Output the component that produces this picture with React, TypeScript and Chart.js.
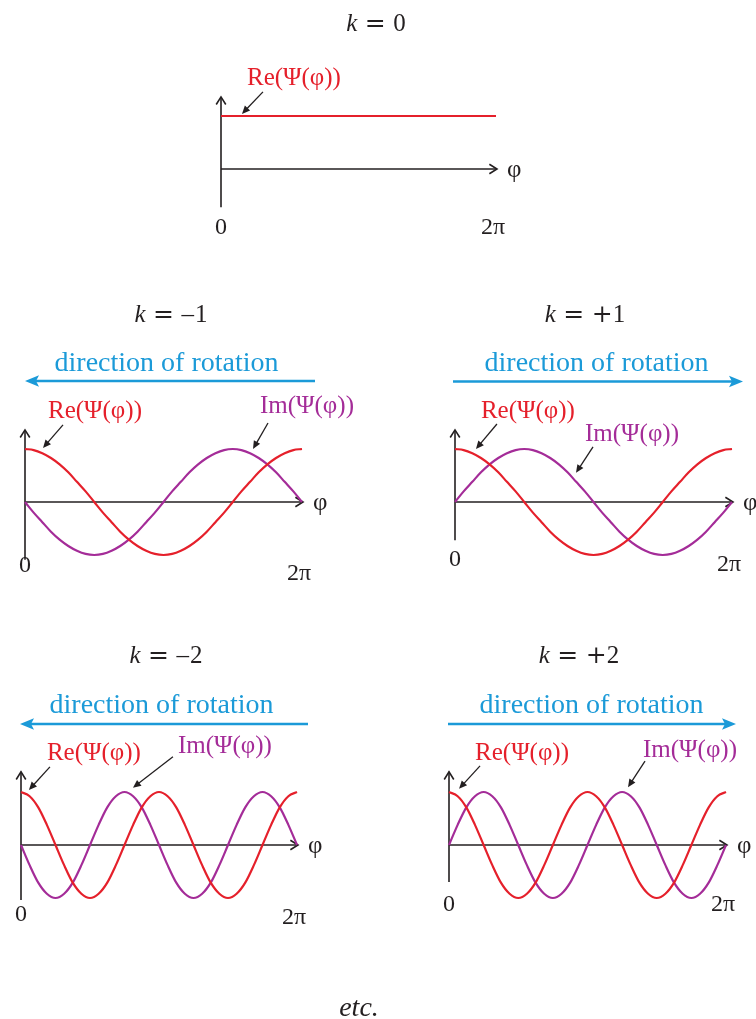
import { useEffect, useRef } from "react";
import { Chart, registerables } from "chart.js";

Chart.register(...registerables);

// φ sampled every π/16 over one full turn
const PHI_LABELS = [
  "0", "π/16", "π/8", "3π/16", "π/4", "5π/16", "3π/8", "7π/16", "π/2",
  "9π/16", "5π/8", "11π/16", "3π/4", "13π/16", "7π/8", "15π/16", "π",
  "17π/16", "9π/8", "19π/16", "5π/4", "21π/16", "11π/8", "23π/16", "3π/2",
  "25π/16", "13π/8", "27π/16", "7π/4", "29π/16", "15π/8", "31π/16", "2π",
];

// k = 0: constant wave function
const RE_K0 = [1, 1, 1, 1, 1, 1, 1, 1, 1, 1, 1, 1, 1, 1, 1, 1, 1, 1, 1, 1, 1, 1, 1, 1, 1, 1, 1, 1, 1, 1, 1, 1, 1];

// k = −1
const RE_KM1 = [
  1, 0.98, 0.92, 0.83, 0.71, 0.56, 0.38, 0.2, 0, -0.2, -0.38, -0.56, -0.71, -0.83, -0.92, -0.98,
  -1, -0.98, -0.92, -0.83, -0.71, -0.56, -0.38, -0.2, 0, 0.2, 0.38, 0.56, 0.71, 0.83, 0.92, 0.98, 1,
];
const IM_KM1 = [
  0, -0.2, -0.38, -0.56, -0.71, -0.83, -0.92, -0.98, -1, -0.98, -0.92, -0.83, -0.71, -0.56, -0.38, -0.2,
  0, 0.2, 0.38, 0.56, 0.71, 0.83, 0.92, 0.98, 1, 0.98, 0.92, 0.83, 0.71, 0.56, 0.38, 0.2, 0,
];

// k = +1
const RE_K1 = [
  1, 0.98, 0.92, 0.83, 0.71, 0.56, 0.38, 0.2, 0, -0.2, -0.38, -0.56, -0.71, -0.83, -0.92, -0.98,
  -1, -0.98, -0.92, -0.83, -0.71, -0.56, -0.38, -0.2, 0, 0.2, 0.38, 0.56, 0.71, 0.83, 0.92, 0.98, 1,
];
const IM_K1 = [
  0, 0.2, 0.38, 0.56, 0.71, 0.83, 0.92, 0.98, 1, 0.98, 0.92, 0.83, 0.71, 0.56, 0.38, 0.2,
  0, -0.2, -0.38, -0.56, -0.71, -0.83, -0.92, -0.98, -1, -0.98, -0.92, -0.83, -0.71, -0.56, -0.38, -0.2, 0,
];

// k = −2
const RE_KM2 = [
  1, 0.92, 0.71, 0.38, 0, -0.38, -0.71, -0.92, -1, -0.92, -0.71, -0.38, 0, 0.38, 0.71, 0.92,
  1, 0.92, 0.71, 0.38, 0, -0.38, -0.71, -0.92, -1, -0.92, -0.71, -0.38, 0, 0.38, 0.71, 0.92, 1,
];
const IM_KM2 = [
  0, -0.38, -0.71, -0.92, -1, -0.92, -0.71, -0.38, 0, 0.38, 0.71, 0.92, 1, 0.92, 0.71, 0.38,
  0, -0.38, -0.71, -0.92, -1, -0.92, -0.71, -0.38, 0, 0.38, 0.71, 0.92, 1, 0.92, 0.71, 0.38, 0,
];

// k = +2
const RE_K2 = [
  1, 0.92, 0.71, 0.38, 0, -0.38, -0.71, -0.92, -1, -0.92, -0.71, -0.38, 0, 0.38, 0.71, 0.92,
  1, 0.92, 0.71, 0.38, 0, -0.38, -0.71, -0.92, -1, -0.92, -0.71, -0.38, 0, 0.38, 0.71, 0.92, 1,
];
const IM_K2 = [
  0, 0.38, 0.71, 0.92, 1, 0.92, 0.71, 0.38, 0, -0.38, -0.71, -0.92, -1, -0.92, -0.71, -0.38,
  0, 0.38, 0.71, 0.92, 1, 0.92, 0.71, 0.38, 0, -0.38, -0.71, -0.92, -1, -0.92, -0.71, -0.38, 0,
];

const K_VALUES = ["0", "–1", "+1", "–2", "+2"];

const RE_TEXT = "Re(Ψ(φ))";
const IM_TEXT = "Im(Ψ(φ))";
const ROTATION_TEXT = "direction of rotation";
const TICK_START = "0";
const TICK_END = "2π";
const AXIS_NAME = "φ";
const FOOTER_TEXT = "etc.";

const RED = "#e5202b";
const PURPLE = "#a42c98";
const BLUE = "#1b9ad8";
const INK = "#231f20";
const SERIF = '"Liberation Serif", "Times New Roman", serif';
const PAGE_W = 756;
const PAGE_H = 1019;

type Callout = {
  text: string;
  color: string;
  tip: [number, number]; // (φ sample index, value)
  tail: [number, number]; // px offset from tip
  textAt: [number, number]; // left/baseline offset from tip
};

type Panel = {
  k: string;
  re: number[];
  im?: number[];
  area: [number, number, number, number];
  titleAt: [number, number];
  axisTop: number;
  axisBottom: number;
  tickDrop: [number, number];
  rotation?: { from: number; to: number; y: number; textAt: [number, number] };
  callouts: Callout[];
};

const PANELS: Panel[] = [
  {
    k: K_VALUES[0],
    re: RE_K0,
    area: [221, 116, 496, 222],
    titleAt: [376, 31],
    axisTop: 1.36,
    axisBottom: -0.72,
    tickDrop: [59, 59],
    callouts: [
      { text: RE_TEXT, color: RED, tip: [2.44, 1.04], tail: [21, -22], textAt: [5, -29] },
    ],
  },
  {
    k: K_VALUES[1],
    re: RE_KM1,
    im: IM_KM1,
    area: [25, 449, 302, 555],
    titleAt: [171, 322],
    axisTop: 1.36,
    axisBottom: -1.09,
    tickDrop: [64, 72],
    rotation: { from: 315, to: 25, y: 381, textAt: [166.5, 371] },
    callouts: [
      { text: RE_TEXT, color: RED, tip: [2.08, 1.02], tail: [20, -23], textAt: [5, -30] },
      { text: IM_TEXT, color: PURPLE, tip: [26.34, 1.0], tail: [15, -26], textAt: [7, -36] },
    ],
  },
  {
    k: K_VALUES[2],
    re: RE_K1,
    im: IM_K1,
    area: [455, 449, 732, 555],
    titleAt: [585, 322],
    axisTop: 1.36,
    axisBottom: -0.72,
    tickDrop: [58, 63],
    rotation: { from: 453, to: 743, y: 381.5, textAt: [596.5, 371] },
    callouts: [
      { text: RE_TEXT, color: RED, tip: [2.42, 1.0], tail: [21, -25], textAt: [5, -31] },
      { text: IM_TEXT, color: PURPLE, tip: [13.98, 0.55], tail: [17, -26], textAt: [9, -32] },
    ],
  },
  {
    k: K_VALUES[3],
    re: RE_KM2,
    im: IM_KM2,
    area: [21, 792, 297, 898],
    titleAt: [166, 663],
    axisTop: 1.38,
    axisBottom: -1.04,
    tickDrop: [70, 73],
    rotation: { from: 308, to: 20, y: 724, textAt: [161.5, 713] },
    callouts: [
      { text: RE_TEXT, color: RED, tip: [0.92, 1.04], tail: [21, -23], textAt: [18, -30] },
      { text: IM_TEXT, color: PURPLE, tip: [12.98, 1.08], tail: [40, -31], textAt: [45, -35] },
    ],
  },
  {
    k: K_VALUES[4],
    re: RE_K2,
    im: IM_K2,
    area: [449, 792, 726, 898],
    titleAt: [579, 663],
    axisTop: 1.38,
    axisBottom: -0.7,
    tickDrop: [60, 60],
    rotation: { from: 448, to: 736, y: 724, textAt: [591.5, 713] },
    callouts: [
      { text: RE_TEXT, color: RED, tip: [1.16, 1.06], tail: [21, -23], textAt: [16, -29] },
      { text: IM_TEXT, color: PURPLE, tip: [20.68, 1.09], tail: [17, -26], textAt: [15, -30] },
    ],
  },
];

function chevron(ctx: CanvasRenderingContext2D, x: number, y: number, ang: number) {
  const len = 9;
  const spread = 0.56;
  ctx.beginPath();
  ctx.moveTo(x - len * Math.cos(ang - spread), y - len * Math.sin(ang - spread));
  ctx.lineTo(x, y);
  ctx.lineTo(x - len * Math.cos(ang + spread), y - len * Math.sin(ang + spread));
  ctx.stroke();
}

function pointer(ctx: CanvasRenderingContext2D, fx: number, fy: number, tx: number, ty: number) {
  const ang = Math.atan2(ty - fy, tx - fx);
  const headLen = 8;
  const halfW = 3.6;
  const cx = Math.cos(ang);
  const sy = Math.sin(ang);
  const bx = tx - headLen * cx;
  const by = ty - headLen * sy;
  ctx.save();
  ctx.strokeStyle = INK;
  ctx.fillStyle = INK;
  ctx.lineWidth = 1.3;
  ctx.beginPath();
  ctx.moveTo(fx, fy);
  ctx.lineTo(bx + 2 * cx, by + 2 * sy);
  ctx.stroke();
  ctx.beginPath();
  ctx.moveTo(tx, ty);
  ctx.lineTo(bx - halfW * sy, by + halfW * cx);
  ctx.lineTo(bx + halfW * sy, by - halfW * cx);
  ctx.closePath();
  ctx.fill();
  ctx.restore();
}

function rotationArrow(ctx: CanvasRenderingContext2D, from: number, to: number, y: number) {
  const dir = Math.sign(to - from);
  const headLen = 14;
  const halfW = 5.8;
  const notch = 3;
  ctx.save();
  ctx.strokeStyle = BLUE;
  ctx.fillStyle = BLUE;
  ctx.lineWidth = 2.6;
  ctx.beginPath();
  ctx.moveTo(from, y);
  ctx.lineTo(to - dir * (headLen - notch - 1), y);
  ctx.stroke();
  ctx.beginPath();
  ctx.moveTo(to, y);
  ctx.lineTo(to - dir * headLen, y - halfW);
  ctx.lineTo(to - dir * (headLen - notch), y);
  ctx.lineTo(to - dir * headLen, y + halfW);
  ctx.closePath();
  ctx.fill();
  ctx.restore();
}

function drawTitle(ctx: CanvasRenderingContext2D, cx: number, baseline: number, value: string) {
  const size = 25;
  const sign = value.replace(/[0-9]/g, "");
  const digits = value.replace(/[^0-9]/g, "");
  const pieces: { t: string; f: string; gapAfter: number }[] = [
    { t: "k", f: `italic ${size}px ${SERIF}`, gapAfter: 0.3 * size },
    { t: "=", f: `${size}px "DejaVu Serif"`, gapAfter: 0.3 * size },
  ];
  if (sign === "+") pieces.push({ t: "+", f: `${size}px "DejaVu Serif"`, gapAfter: 0 });
  else if (sign) pieces.push({ t: sign, f: `${size}px ${SERIF}`, gapAfter: 0.04 * size });
  pieces.push({ t: digits, f: `${size}px ${SERIF}`, gapAfter: 0 });
  let total = 0;
  const widths = pieces.map((p) => {
    ctx.font = p.f;
    const w = ctx.measureText(p.t).width;
    total += w + p.gapAfter;
    return w;
  });
  let x = cx - total / 2;
  ctx.fillStyle = INK;
  ctx.textAlign = "left";
  ctx.textBaseline = "alphabetic";
  pieces.forEach((p, i) => {
    ctx.font = p.f;
    ctx.fillText(p.t, x, baseline);
    x += widths[i] + p.gapAfter;
  });
}

function makeDiagramPlugin(p: Panel) {
  return {
    id: "phaseDiagram",
    beforeDatasetsDraw(chart: Chart) {
      const ctx = chart.ctx;
      const xs = chart.scales.x;
      const ys = chart.scales.y;
      const x0 = xs.getPixelForValue(0);
      const x1 = xs.getPixelForValue(PHI_LABELS.length - 1) + 1;
      const y0 = ys.getPixelForValue(0);
      const yt = ys.getPixelForValue(p.axisTop);
      const yb = ys.getPixelForValue(p.axisBottom);
      ctx.save();
      ctx.strokeStyle = INK;
      ctx.lineWidth = 1.6;
      ctx.lineJoin = "miter";
      ctx.beginPath();
      ctx.moveTo(x0, yb);
      ctx.lineTo(x0, yt);
      ctx.stroke();
      chevron(ctx, x0, yt, -Math.PI / 2);
      ctx.beginPath();
      ctx.moveTo(x0, y0);
      ctx.lineTo(x1, y0);
      ctx.stroke();
      chevron(ctx, x1, y0, 0);
      ctx.restore();
    },
    afterDatasetsDraw(chart: Chart) {
      const ctx = chart.ctx;
      const xs = chart.scales.x;
      const ys = chart.scales.y;
      const x0 = xs.getPixelForValue(0);
      const x1 = xs.getPixelForValue(PHI_LABELS.length - 1);
      const y0 = ys.getPixelForValue(0);
      ctx.save();

      drawTitle(ctx, p.titleAt[0], p.titleAt[1], p.k);

      // axis name and end ticks
      ctx.fillStyle = INK;
      ctx.font = `25px ${SERIF}`;
      ctx.textBaseline = "middle";
      ctx.textAlign = "left";
      ctx.fillText(AXIS_NAME, x1 + 11, y0 + 1);
      ctx.font = `24px ${SERIF}`;
      ctx.textAlign = "center";
      ctx.fillText(TICK_START, x0, y0 + p.tickDrop[0]);
      ctx.fillText(TICK_END, x1 - 3, y0 + p.tickDrop[1]);

      // rotation hint
      if (p.rotation) {
        const r = p.rotation;
        ctx.font = `28px ${SERIF}`;
        ctx.fillStyle = BLUE;
        ctx.textAlign = "center";
        ctx.textBaseline = "alphabetic";
        ctx.fillText(ROTATION_TEXT, r.textAt[0], r.textAt[1]);
        rotationArrow(ctx, r.from, r.to, r.y);
      }

      // curve callouts
      p.callouts.forEach((c) => {
        const tx = xs.getPixelForValue(c.tip[0]);
        const ty = ys.getPixelForValue(c.tip[1]);
        pointer(ctx, tx + c.tail[0], ty + c.tail[1], tx, ty);
        ctx.font = `25px ${SERIF}`;
        ctx.fillStyle = c.color;
        ctx.textAlign = "left";
        ctx.textBaseline = "alphabetic";
        ctx.fillText(c.text, tx + c.textAt[0], ty + c.textAt[1]);
      });
      ctx.restore();
    },
  };
}

function PanelCanvas({ panel }: { panel: Panel }) {
  const ref = useRef<HTMLCanvasElement | null>(null);
  useEffect(() => {
    const canvas = ref.current;
    if (!canvas) return;
    const [l, t, r, b] = panel.area;
    const datasets: any[] = [
      {
        label: RE_TEXT,
        data: panel.re,
        borderColor: RED,
        borderWidth: 2.2,
        pointRadius: 0,
        cubicInterpolationMode: "monotone",
        fill: false,
        clip: false,
      },
    ];
    if (panel.im) {
      datasets.push({
        label: IM_TEXT,
        data: panel.im,
        borderColor: PURPLE,
        borderWidth: 2.2,
        pointRadius: 0,
        cubicInterpolationMode: "monotone",
        fill: false,
        clip: false,
      });
    }
    const chart = new Chart(canvas, {
      type: "line",
      data: { labels: PHI_LABELS, datasets },
      options: {
        responsive: false,
        animation: false,
        events: [],
        devicePixelRatio: 1,
        layout: { padding: { left: l, top: t, right: PAGE_W - r, bottom: PAGE_H - b } },
        scales: {
          x: { type: "category", display: false, offset: false },
          y: { type: "linear", min: -1, max: 1, display: false },
        },
        plugins: { legend: { display: false }, tooltip: { enabled: false } },
      },
      plugins: [makeDiagramPlugin(panel)],
    });
    return () => chart.destroy();
  }, [panel]);
  return (
    <canvas
      ref={ref}
      width={PAGE_W}
      height={PAGE_H}
      style={{ position: "absolute", left: 0, top: 0, width: PAGE_W, height: PAGE_H }}
    />
  );
}

export default function App() {
  return (
    <div
      style={{
        position: "absolute",
        left: 0,
        top: 0,
        width: PAGE_W,
        height: PAGE_H,
        background: "#ffffff",
        overflow: "hidden",
      }}
    >
      {PANELS.map((p, i) => (
        <PanelCanvas key={i} panel={p} />
      ))}
      <div
        style={{
          position: "absolute",
          left: 0,
          top: 993,
          width: 718,
          textAlign: "center",
          font: `italic 28px ${SERIF}`,
          lineHeight: "27px",
          color: INK,
        }}
      >
        {FOOTER_TEXT}
      </div>
    </div>
  );
}
